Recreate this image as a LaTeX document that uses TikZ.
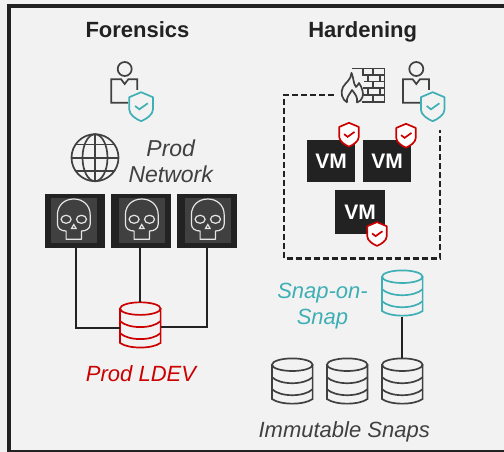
\documentclass[tikz,border=0pt]{standalone}
\usepackage{fontspec}
\setmainfont{Liberation Sans}
\definecolor{paper}{HTML}{F2F2F2}
\definecolor{ink}{HTML}{222222}
\definecolor{icon}{HTML}{404040}
\definecolor{alert}{HTML}{CC0000}
\definecolor{safe}{HTML}{3EAFB5}
\tikzset{
    heading/.style={anchor=base, inner sep=0pt, text=ink, font=\bfseries\fontsize{22}{24}\selectfont},
    caption/.style={align=center, inner sep=0pt, font=\itshape\fontsize{22}{26}\selectfont},
    vmbox/.style={fill=ink, text=white, inner sep=0pt, font=\bfseries\fontsize{21}{24}\selectfont},
    skullbox/.style={fill=ink, minimum width=60pt, minimum height=53.7pt, inner sep=0pt},
    stackbox/.style={minimum width=40.6pt, minimum height=47pt, inner sep=0pt},
    wire/.style={draw=ink, line width=2.2pt},
    dashline/.style={draw=ink, line width=2.6pt, dash pattern=on 6pt off 3pt},
    thinline/.style={line width=1.7pt},
    shield/.pic={
        \draw[pic actions, thinline, line join=round] (0,-14.5) -- (11.8,-9.5) -- (11.8,3) .. controls (11.8,8) and (5,12.5) .. (0,14.5) .. controls (-5,12.5) and (-11.8,8) .. (-11.8,3) -- (-11.8,-9.5) -- cycle;
        \draw[pic actions, fill=none, thinline] (-6,-0.7) -- (-1.7,2.6) -- (6.7,-3.4);
    },
    person/.pic={
        \draw[icon, thinline] (0,0) circle (7);
        \draw[icon, thinline] (12.6,21) -- (12.6,10.3) -- (3.6,10.3) -- (0,15) -- (-3.6,10.3) -- (-13.4,10.3) -- (-13.4,33.7) -- (3.5,33.7);
        \pic[draw=safe, fill=paper] at (16.4,37.7) {shield};
    },
    stack/.pic={
        \draw[pic actions, thinline] (0,-17) ellipse [x radius=20.3, y radius=6.3];
        \draw[pic actions, thinline] (-20.3,-17) -- (-20.3,17.3) .. controls (-12,23.5) and (12,23.5) .. (20.3,17.3) -- (20.3,-17);
        \draw[pic actions, thinline] (-20.3,-4.5) .. controls (-12,3.5) and (12,3.5) .. (20.3,-4.5);
        \draw[pic actions, thinline] (-20.3,7.5) .. controls (-12,15.5) and (12,15.5) .. (20.3,7.5);
    },
    skull/.pic={
        \fill[icon] (-22.9,-22.4) rectangle (22.9,22.4);
        \draw[white!90!black, line width=1.2pt, line join=round] (-7.7,19) -- (-7.7,10.7) .. controls (-12,10.7) and (-16.4,8.7) .. (-16.4,3.7) -- (-16.4,-5.3) .. controls (-16.4,-15.3) and (-9,-21.3) .. (0,-21.3) .. controls (9,-21.3) and (16.4,-15.3) .. (16.4,-5.3) -- (16.4,3.7) .. controls (16.4,8.7) and (12,10.7) .. (7.7,10.7) -- (7.7,19) -- cycle;
        \draw[white!90!black, line width=1.2pt] (-7.7,-1) ellipse [x radius=5, y radius=4];
        \draw[white!90!black, line width=1.2pt] (7.7,-1) ellipse [x radius=5, y radius=4];
        \draw[white!90!black, line width=1.2pt] (0,4.2) -- (2.3,8.2) -- (-2.3,8.2) -- cycle;
    },
}

\begin{document}
\begin{tikzpicture}[x=1pt, y=-1pt]
    \useasboundingbox (0,0) rectangle (504,452);
    \fill[paper] (0,0) rectangle (504,452);
    \draw[ink, line width=4pt] (504,6) -- (9,6) -- (9,451);
    \draw[ink, line width=2pt] (7,451) -- (504,451);

    % forensics side
    \node[heading] (forensics) at (137.5,37.7) {Forensics};
    \pic at (124.7,69) {person};
    \draw[icon, thinline] (95,157.7) circle (23.5);
    \draw[icon, thinline] (95,157.7) ellipse [x radius=12.5, y radius=23.5];
    \draw[icon, thinline] (95,134.2) -- (95,181.2);
    \draw[icon, thinline] (71.5,157.7) -- (118.5,157.7);
    \draw[icon, thinline] (75.5,144.5) -- (114.5,144.5);
    \draw[icon, thinline] (75.5,170.9) -- (114.5,170.9);
    \node[caption, text=icon, font=\itshape\fontsize{23}{26}\selectfont] (prodnet) at (170.7,161.5) {Prod\\Network};
    \node[skullbox] (skullone) at (75,220.8) {};
    \node[skullbox] (skulltwo) at (141,220.8) {};
    \node[skullbox] (skullthree) at (207,220.8) {};
    \pic at (73.8,220.3) {skull};
    \pic at (141.8,220.3) {skull};
    \pic at (207.8,220.3) {skull};
    \node[stackbox] (ldev) at (140.3,325.6) {};
    \pic[draw=alert] at (ldev) {stack};
    \draw[wire] ([xshift=1pt]skullone.south) |- ([yshift=-2pt]ldev.west);
    \draw[wire] (skulltwo.south -| ldev.north) -- (ldev.north);
    \draw[wire] (skullthree.south) |- ([yshift=-1.5pt]ldev.east);
    \node[caption, anchor=base, text=alert] (ldevtext) at (141,381.7) {Prod LDEV};

    % hardening side
    \node[heading] (hardening) at (362.7,37.7) {Hardening};
    \draw[icon, thinline] (352,68.4) -- (385,68.4);
    \draw[icon, thinline] (362,74.8) -- (385,74.8);
    \draw[icon, thinline] (364,81.4) -- (385,81.4);
    \draw[icon, thinline] (363,88.3) -- (385,88.3);
    \draw[icon, thinline] (363,95) -- (385,95);
    \draw[icon, thinline] (362,102.3) -- (385,102.3);
    \draw[icon, thinline] (384.5,68.4) -- (384.5,102.3);
    \draw[icon, thinline] (363,68.4) -- (363,74.8);
    \draw[icon, thinline] (373,68.4) -- (373,74.8);
    \draw[icon, thinline] (368,74.8) -- (368,81.4);
    \draw[icon, thinline] (380,74.8) -- (380,81.4);
    \draw[icon, thinline] (373,81.4) -- (373,88.3);
    \draw[icon, thinline] (368,88.3) -- (368,95);
    \draw[icon, thinline] (380,88.3) -- (380,95);
    \draw[icon, thinline] (373,95) -- (373,102.3);
    \draw[icon, thinline, line join=round] (347,102.5) .. controls (342,99) and (340,93) .. (343,87) .. controls (346,82) and (351,80) .. (351.5,72.8) .. controls (354,79) and (353,83) .. (356,87) .. controls (357,86) and (358,85) .. (359,83) .. controls (362,87) and (364,94) .. (362.5,97) .. controls (361.5,100) and (360,101.5) .. (357,102.5) .. controls (358,97) and (355,94) .. (352,90) .. controls (350,94) and (346,97) .. (347,102.5);
    \pic at (416.3,69) {person};
    \coordinate (dashstart) at (333.7,95);
    \coordinate (dashnw) at (284,95);
    \coordinate (dashsw) at (284,258.7);
    \coordinate (dashse) at (440,258.7);
    \coordinate (dashend) at (440,130);
    \draw[dashline] (dashstart) -- (dashnw) -- (dashsw) -- (dashse) -- (dashend);
    \node[vmbox, minimum width=48pt, minimum height=41.7pt] (vmone) at (331,160.8) {VM};
    \node[vmbox, minimum width=48pt, minimum height=41.7pt] (vmtwo) at (387,160.8) {VM};
    \node[vmbox, minimum width=50pt, minimum height=44pt] (vmthree) at (360,212) {VM};
    \pic[draw=alert, fill=white, scale=.82] at (349,134.7) {shield};
    \pic[draw=alert, fill=white, scale=.82] at (406,135.7) {shield};
    \pic[draw=alert, fill=white, scale=.82] at (377,234) {shield};
    \node[caption, text=safe] (snapontext) at (322.5,306.5) {Snap-on-\\Snap};
    \node[stackbox] (snapon) at (402.3,293.7) {};
    \pic[draw=safe] at (snapon) {stack};
    \node[stackbox] (immone) at (292.3,381.7) {};
    \node[stackbox] (immtwo) at (347.2,381.7) {};
    \node[stackbox] (immthree) at (402.3,381.7) {};
    \pic[draw=icon] at (immone) {stack};
    \pic[draw=icon] at (immtwo) {stack};
    \pic[draw=icon] at (immthree) {stack};
    \draw[wire] (snapon.south) -- (immthree.north);
    \node[caption, anchor=base, text=icon] (immtext) at (344.2,437.7) {Immutable Snaps};
\end{tikzpicture}
\end{document}
